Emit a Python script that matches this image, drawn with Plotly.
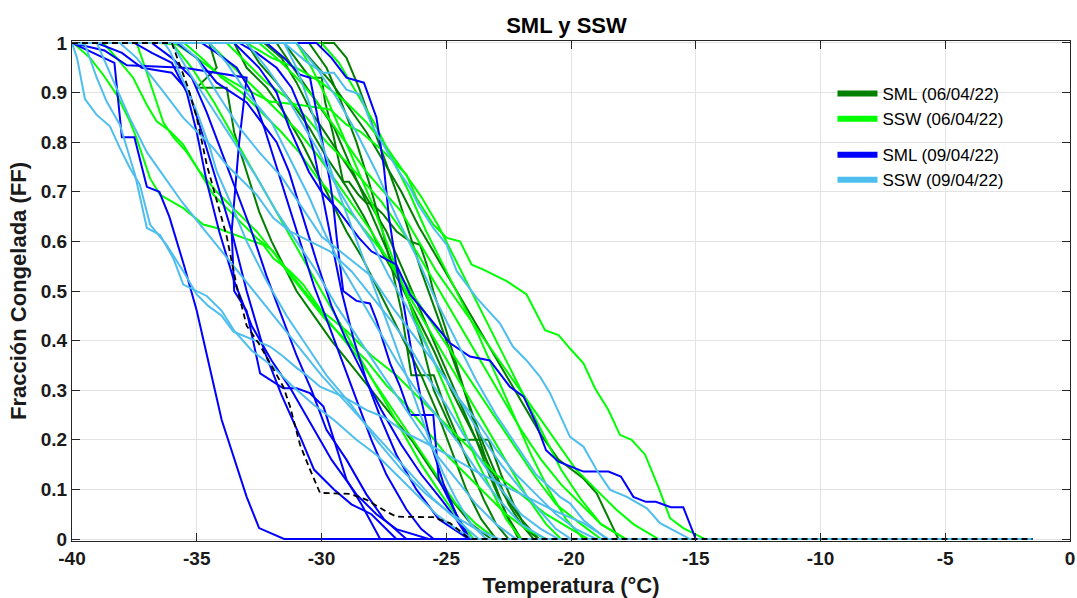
import plotly.graph_objects as go

# ---------------- data ----------------
T_START, T_END = -40.0, -1.5

# SML (06/04/22) - dark green
sml_0604_T = [
    [-31.5,-30.46,-29.99,-29.86,-29.53,-29.13,-28.9,-28.52,-28.19,-27.99,-27.52,-26.99,-26.45,-26.05,-25.78,-25.52,-25.0,-24.4,-23.8,-23.2,-22.6,-22.0],
    [-34.5,-34.2,-35.0,-33.8,-33.5,-33.0,-32.5,-32.0,-31.5,-31.0,-30.3,-29.6,-28.8,-28.0,-27.2,-26.4,-25.6,-24.8,-24.0,-23.2],
    [-33.0,-32.5,-31.8,-31.2,-30.5,-29.8,-29.0,-28.3,-27.6,-26.9,-26.2,-25.5,-24.8,-24.1,-23.4,-22.7,-22.0,-21.3],
    [-32.3,-31.6,-31.0,-30.4,-29.6,-28.8,-28.1,-27.4,-26.8,-26.2,-25.6,-25.0,-24.4,-23.8,-23.2,-22.6,-22.1],
    [-30.5,-29.8,-29.2,-28.6,-28.1,-27.6,-27.2,-26.8,-26.4,-25.5,-25.0,-24.5,-24.0,-23.5,-23.0,-22.5],
    [-31.8,-31.0,-30.2,-29.5,-28.9,-28.3,-27.7,-27.1,-26.5,-26.0,-25.5,-24.6,-23.3,-22.8,-22.3,-21.8,-21.3],
    [-29.5,-29.0,-28.5,-28.0,-27.5,-27.0,-26.5,-26.0,-25.5,-25.0,-24.5,-24.0,-23.5,-23.0,-22.5,-22.0,-21.5],
    [-31.0,-30.3,-29.6,-28.9,-28.2,-27.5,-26.8,-26.1,-25.4,-24.7,-24.0,-23.3,-22.6,-21.9,-21.2,-20.5,-19.5,-18.97,-18.1],
    [-33.5,-33.0,-32.2,-31.5,-30.8,-30.2,-29.6,-29.0,-28.4,-27.8,-27.2,-26.6,-26.0,-25.4,-24.8,-24.2,-23.6,-23.0],
]
sml_0604_FF = [
    [1,0.93,0.93,0.882,0.815,0.72,0.72,0.694,0.677,0.677,0.654,0.62,0.6,0.593,0.553,0.5,0.42,0.32,0.22,0.13,0.05,0],
    [1,0.95,0.91,0.91,0.82,0.74,0.66,0.6,0.55,0.5,0.45,0.4,0.35,0.3,0.25,0.2,0.14,0.08,0.03,0],
    [1,0.96,0.92,0.88,0.83,0.77,0.71,0.65,0.58,0.52,0.45,0.38,0.3,0.23,0.16,0.09,0.04,0],
    [1,0.97,0.92,0.86,0.8,0.74,0.68,0.62,0.55,0.48,0.41,0.34,0.27,0.2,0.12,0.05,0],
    [1,0.95,0.88,0.8,0.72,0.63,0.55,0.46,0.33,0.33,0.26,0.2,0.14,0.08,0.03,0],
    [1,0.94,0.88,0.83,0.76,0.69,0.62,0.55,0.48,0.4,0.3,0.2,0.2,0.13,0.07,0.02,0],
    [1,0.97,0.91,0.84,0.77,0.7,0.62,0.54,0.47,0.4,0.33,0.26,0.19,0.13,0.07,0.03,0],
    [1,0.96,0.92,0.87,0.82,0.76,0.7,0.63,0.57,0.51,0.45,0.39,0.33,0.27,0.21,0.16,0.122,0.092,0],
    [1,0.95,0.91,0.86,0.8,0.74,0.68,0.62,0.57,0.51,0.45,0.39,0.33,0.26,0.18,0.1,0.04,0],
]

# SSW (06/04/22) - lime green
ssw_0604_T = [
    [-36.5,-35.8,-35.0,-34.07,-33.13,-32.06,-30.99,-29.66,-28.99,-28.46,-27.66,-26.99,-26.59,-26.19,-25.52,-24.98,-24.45,-23.98,-23.51,-22.58,-21.78,-21.04,-20.5,-20.04,-19.5,-19.04,-18.5,-18.04,-17.57,-17.03,-16.5,-16.03,-15.5,-14.63],
    [-40.0,-39.88,-39.28,-38.75,-38.21,-37.68,-37.41,-37.14,-36.87,-36.47,-35.54,-34.74,-34.2,-33.13,-32.33,-31.93,-31.26,-30.73,-30.0,-29.0,-28.0,-27.0,-26.0,-25.0,-24.0,-23.0,-22.0,-21.0,-20.0,-19.3],
    [-38.75,-38.21,-37.55,-37.01,-36.61,-36.07,-35.54,-35.14,-34.74,-34.33,-33.8,-33.13,-32.6,-31.93,-31.39,-30.6,-29.8,-29.0,-28.2,-27.4,-26.6,-25.8,-25.0,-24.2,-23.4,-22.6,-21.8,-21.0],
    [-37.41,-37.0,-36.6,-36.34,-35.94,-35.4,-34.87,-34.2,-33.4,-32.6,-31.8,-31.0,-30.2,-29.4,-28.6,-27.8,-27.0,-26.2,-25.4,-24.6,-23.8,-23.0],
    [-35.5,-34.8,-34.0,-33.2,-32.4,-31.6,-30.9,-30.2,-29.5,-28.7,-27.9,-27.1,-26.3,-25.5,-24.7,-23.9,-23.1,-22.3,-21.5,-20.6,-19.6,-18.8],
    [-33.8,-33.0,-32.2,-31.4,-30.6,-29.8,-29.0,-28.3,-27.6,-26.9,-26.2,-25.5,-24.8,-24.1,-23.4,-22.7,-22.0,-21.2,-20.4,-19.6,-18.8,-17.8],
    [-32.5,-31.8,-31.0,-30.3,-29.6,-28.9,-28.2,-27.5,-26.8,-26.1,-25.4,-24.7,-24.0,-23.3,-22.6,-21.9,-21.2,-20.5,-19.8,-19.0,-18.2,-17.5,-16.5],
    [-31.0,-30.4,-29.8,-29.2,-28.6,-28.0,-27.4,-26.8,-26.2,-25.6,-25.0,-24.4,-23.8,-23.2,-22.6,-22.0],
    [-34.5,-33.5,-32.5,-31.7,-30.9,-30.1,-29.4,-28.7,-28.0,-27.3,-26.6,-25.9,-25.2,-24.5,-23.8,-23.1,-22.4,-21.7,-21.0,-20.4],
    [-30.0,-29.3,-28.6,-27.9,-27.2,-26.5,-25.8,-25.1,-24.4,-23.7,-23.0,-22.3,-21.6,-20.9,-20.2,-19.5],
    [-36.0,-35.2,-34.3,-33.4,-32.5,-31.6,-30.8,-30.0,-29.2,-28.4,-27.6,-26.8,-26.0,-25.2,-24.5,-23.9],
    [-33.0,-32.0,-31.0,-30.0,-29.0,-28.2,-27.4,-26.7,-26.0,-25.3,-24.6,-23.9,-23.2,-22.5,-21.8,-21.1,-20.4,-19.6,-18.8,-17.8],
]
ssw_0604_FF = [
    [1,0.997,0.97,0.936,0.909,0.882,0.876,0.866,0.835,0.822,0.788,0.755,0.734,0.687,0.634,0.607,0.6,0.553,0.543,0.52,0.493,0.421,0.411,0.384,0.354,0.304,0.26,0.21,0.2,0.17,0.105,0.042,0.022,0],
    [1,0.997,0.97,0.936,0.896,0.842,0.808,0.768,0.727,0.694,0.667,0.634,0.627,0.607,0.593,0.566,0.54,0.513,0.46,0.42,0.37,0.33,0.28,0.23,0.18,0.13,0.09,0.05,0.02,0],
    [1,0.97,0.93,0.876,0.842,0.822,0.795,0.761,0.727,0.694,0.667,0.634,0.607,0.58,0.54,0.49,0.44,0.4,0.36,0.31,0.27,0.22,0.17,0.13,0.09,0.05,0.02,0],
    [1,0.94,0.88,0.84,0.81,0.78,0.74,0.7,0.66,0.62,0.57,0.52,0.47,0.42,0.37,0.31,0.25,0.19,0.13,0.07,0.03,0],
    [1,0.97,0.93,0.9,0.86,0.82,0.78,0.73,0.69,0.65,0.6,0.55,0.49,0.43,0.37,0.31,0.25,0.19,0.13,0.07,0.03,0],
    [1,0.96,0.92,0.89,0.85,0.8,0.76,0.72,0.68,0.63,0.58,0.52,0.46,0.4,0.34,0.28,0.22,0.16,0.11,0.07,0.03,0],
    [1,0.97,0.93,0.89,0.84,0.79,0.74,0.7,0.66,0.6,0.54,0.49,0.44,0.39,0.34,0.29,0.24,0.19,0.14,0.1,0.06,0.03,0],
    [1,0.95,0.89,0.82,0.75,0.68,0.6,0.52,0.44,0.37,0.3,0.23,0.16,0.1,0.04,0],
    [1,0.95,0.9,0.86,0.82,0.77,0.72,0.67,0.62,0.56,0.5,0.44,0.38,0.32,0.26,0.2,0.14,0.08,0.03,0],
    [1,0.96,0.9,0.84,0.77,0.7,0.62,0.55,0.48,0.41,0.33,0.25,0.17,0.1,0.04,0],
    [1,0.95,0.88,0.8,0.72,0.64,0.57,0.5,0.43,0.36,0.29,0.22,0.15,0.09,0.04,0],
    [1,0.97,0.95,0.92,0.88,0.84,0.79,0.74,0.69,0.63,0.56,0.49,0.42,0.35,0.28,0.21,0.14,0.08,0.03,0],
]

# SML (09/04/22) - blue
sml_0904_T = [
    [-40,-38.3,-38.0,-37.5,-37.0,-36.5,-36.1,-35.5,-35.0,-34.0,-33.0,-32.5,-31.5],
    [-40,-38.7,-37.8,-35.5,-33.0,-33.3,-33.6,-33.5,-33.0,-32.46,-31.53,-31.0,-30.46,-29.92,-29.5,-29.0,-28.4,-27.65],
    [-39.0,-38.0,-37.2,-36.0,-35.3,-34.8,-34.2,-33.6,-33.0,-32.3,-31.6,-30.8,-30.3,-29.5,-28.8,-28.0,-27.0],
    [-36.8,-36.0,-35.2,-34.6,-34.0,-33.4,-32.8,-32.2,-31.6,-31.0,-30.4,-29.8,-29.0,-28.2,-27.5,-26.6],
    [-32.2,-31.5,-30.86,-30.46,-30.26,-29.93,-29.66,-29.53,-29.39,-29.13,-28.6,-28.06,-27.79,-27.25,-26.85,-26.45,-25.52,-25.3,-24.6,-24.05],
    [-33.5,-32.5,-31.8,-31.3,-30.5,-30.0,-29.4,-28.5,-28.0,-27.0,-26.45,-25.5,-24.85,-24.05,-23.25,-22.45,-21.9,-21.4,-21.0,-20.5,-19.5,-18.5,-18.0,-17.5,-17.0,-16.6,-16.0,-15.5,-15.0],
    [-35.8,-35.0,-34.2,-33.0,-32.4,-31.8,-31.3,-30.8,-30.2,-29.6,-29.0,-28.3,-27.6,-26.8,-26.0,-25.2,-24.6,-24.1],
    [-30.2,-29.6,-29.0,-28.3,-27.8,-27.5,-27.3,-27.0,-26.7,-26.4,-26.0,-25.6,-25.1,-24.6,-24.1],
    [-37.5,-36.8,-36.0,-35.4,-35.0,-34.6,-34.1,-33.5,-32.8,-32.0,-31.2,-30.4,-29.6,-28.6,-27.8,-27.0,-25.7],
    [-34.8,-34.2,-33.4,-32.8,-32.3,-31.8,-31.3,-30.8,-30.3,-29.7,-29.1,-28.6,-28.0,-27.4,-26.6,-26.0,-25.5],
    [-33.3,-32.6,-31.8,-31.2,-30.7,-30.3,-30.0,-29.6,-29.2,-28.7,-28.2,-27.6,-27.0,-26.2,-25.3,-24.1],
]
sml_0904_FF = [
    [1,0.96,0.81,0.81,0.71,0.70,0.65,0.55,0.46,0.24,0.085,0.022,0],
    [1,0.985,0.955,0.95,0.93,0.80,0.62,0.50,0.46,0.334,0.304,0.304,0.294,0.267,0.2,0.12,0.07,0],
    [1,0.98,0.95,0.94,0.9,0.82,0.72,0.62,0.5,0.38,0.29,0.2,0.14,0.1,0.07,0.05,0],
    [1,0.97,0.93,0.86,0.78,0.70,0.62,0.53,0.45,0.37,0.30,0.22,0.16,0.09,0.04,0],
    [1,0.97,0.936,0.93,0.876,0.788,0.721,0.674,0.607,0.5,0.48,0.475,0.44,0.354,0.307,0.25,0.25,0.12,0.05,0],
    [1,0.95,0.90,0.83,0.74,0.70,0.667,0.607,0.58,0.553,0.493,0.435,0.395,0.368,0.36,0.307,0.287,0.233,0.179,0.156,0.136,0.136,0.126,0.085,0.075,0.075,0.064,0.064,0],
    [1,0.97,0.92,0.88,0.84,0.80,0.74,0.66,0.56,0.47,0.40,0.33,0.26,0.19,0.13,0.08,0.04,0],
    [1,0.97,0.93,0.92,0.85,0.75,0.65,0.55,0.47,0.38,0.28,0.19,0.11,0.05,0],
    [1,0.98,0.96,0.9,0.82,0.72,0.62,0.52,0.43,0.36,0.3,0.23,0.16,0.09,0.05,0.02,0],
    [1,0.98,0.95,0.9,0.83,0.75,0.67,0.59,0.51,0.43,0.35,0.28,0.2,0.13,0.06,0.02,0],
    [1,0.98,0.95,0.91,0.85,0.78,0.70,0.6,0.5,0.4,0.32,0.24,0.17,0.1,0.04,0],
]

# SSW (09/04/22) - light blue
ssw_0904_T = [
    [-40,-31.5,-30.6,-29.94,-29.5,-29.0,-28.46,-27.99,-27.52,-26.99,-26.45,-26.12,-25.52,-24.98,-24.58,-23.78,-22.85,-22.33,-21.78,-21.24,-20.84,-20.04,-19.5,-18.97,-18.43,-17.76,-16.96,-16.43,-15.23],
    [-40,-39.8,-39.48,-39.01,-38.48,-38.08,-37.68,-37.28,-36.87,-36.21,-35.54,-35.0,-34.54,-34.0,-33.53,-32.87,-32.06,-31.53,-31.0,-30.59,-30.06,-29.13,-28.19,-27.52,-26.59,-25.52,-24.58,-23.65,-22.85,-21.78,-20.71,-19.5,-18.84,-18.5],
    [-39.48,-39.01,-38.61,-38.08,-37.47,-37.0,-36.47,-35.94,-35.54,-34.6,-34.0,-33.5,-32.8,-32.0,-31.2,-30.3,-29.5,-28.6,-27.8,-27.0,-26.2,-25.4,-24.6,-23.9],
    [-38.08,-37.41,-36.87,-36.34,-35.54,-34.87,-34.33,-33.8,-33.13,-32.6,-31.93,-31.26,-30.46,-29.66,-28.8,-28.0,-27.2,-26.5,-25.8,-25.0,-24.3,-23.5,-22.8,-22.0,-21.2,-20.5],
    [-36.3,-36.07,-35.54,-35.0,-34.47,-34.2,-33.67,-33.0,-32.2,-31.4,-30.6,-29.8,-28.8,-27.8,-26.8,-25.8,-24.8,-23.8,-22.9],
    [-35.7,-35.0,-34.2,-33.3,-32.5,-31.6,-30.8,-30.0,-29.0,-28.0,-27.2,-26.3,-25.4,-24.6,-23.8,-23.0,-22.2,-21.4,-20.6,-19.8,-19.0],
    [-34.5,-33.8,-33.0,-32.0,-31.2,-30.5,-29.9,-29.2,-28.5,-27.7,-27.0,-26.2,-25.4,-24.6,-23.8,-22.9,-22.0,-21.0],
    [-33.0,-32.2,-31.5,-30.8,-30.1,-29.5,-28.8,-28.0,-27.3,-26.6,-26.0,-25.4,-24.7,-24.1,-23.5,-22.8,-22.0,-21.3,-20.6,-20.0],
    [-31.5,-31.0,-30.5,-30.0,-29.4,-28.8,-28.2,-27.6,-27.1,-26.6,-26.1,-25.6,-25.1,-24.6,-24.0,-23.4],
    [-31.0,-30.2,-29.4,-28.6,-27.8,-27.0,-26.2,-25.4,-24.6,-23.8,-23.0,-22.2,-21.4,-20.44,-20.04,-19.5,-18.57],
    [-36.0,-35.3,-34.4,-33.5,-32.6,-31.8,-31.0,-30.2,-29.4,-28.6,-27.8,-27.0,-26.2,-25.4,-24.6,-23.8,-23.0,-22.2],
    [-39.0,-38.4,-37.7,-37.0,-36.3,-35.6,-34.8,-34.0,-33.2,-32.4,-31.6,-30.8,-30.0,-29.1,-28.2,-27.3,-26.4,-25.5,-24.6,-23.7],
]
ssw_0904_FF = [
    [1,1,0.962,0.94,0.94,0.906,0.896,0.835,0.795,0.748,0.708,0.674,0.627,0.593,0.54,0.486,0.435,0.388,0.36,0.327,0.294,0.206,0.186,0.139,0.099,0.085,0.062,0.032,0],
    [1,0.97,0.887,0.855,0.832,0.788,0.748,0.714,0.634,0.593,0.54,0.493,0.47,0.45,0.418,0.405,0.388,0.368,0.345,0.33,0.307,0.287,0.26,0.246,0.213,0.186,0.159,0.132,0.112,0.085,0.058,0.032,0.011,0],
    [0.997,0.93,0.882,0.835,0.734,0.627,0.613,0.566,0.513,0.49,0.46,0.42,0.38,0.35,0.31,0.27,0.24,0.2,0.17,0.13,0.09,0.05,0.02,0],
    [1,0.97,0.936,0.902,0.849,0.815,0.788,0.754,0.721,0.694,0.647,0.62,0.6,0.58,0.54,0.49,0.44,0.39,0.33,0.27,0.21,0.15,0.1,0.05,0.02,0],
    [1,0.983,0.923,0.862,0.788,0.741,0.681,0.6,0.52,0.45,0.39,0.33,0.27,0.2,0.14,0.09,0.05,0.02,0],
    [1,0.97,0.9,0.83,0.78,0.73,0.67,0.61,0.57,0.53,0.47,0.41,0.35,0.29,0.24,0.18,0.13,0.09,0.05,0.02,0],
    [1,0.96,0.9,0.84,0.76,0.69,0.62,0.55,0.49,0.42,0.36,0.3,0.25,0.2,0.14,0.08,0.03,0],
    [1,0.95,0.9,0.84,0.78,0.72,0.66,0.6,0.53,0.47,0.41,0.35,0.3,0.25,0.2,0.15,0.1,0.06,0.02,0],
    [1,0.95,0.88,0.8,0.71,0.63,0.55,0.47,0.4,0.33,0.26,0.19,0.13,0.08,0.03,0],
    [1,0.95,0.89,0.82,0.74,0.65,0.57,0.48,0.4,0.32,0.25,0.19,0.13,0.085,0.072,0.038,0],
    [1,0.94,0.87,0.8,0.73,0.66,0.6,0.54,0.47,0.41,0.35,0.29,0.23,0.17,0.12,0.07,0.03,0],
    [1,0.93,0.85,0.78,0.73,0.68,0.63,0.58,0.53,0.48,0.43,0.38,0.33,0.28,0.23,0.18,0.13,0.08,0.04,0],
]

# reference (black dashed)
ref_T = [-40,-36,-35.35,-35.0,-34.6,-34.2,-33.8,-33.4,-33.0,-32.46,-31.53,-31.26,-30.86,-30.46,-30.06,-28.86,-28.19,-27.39,-26.99,-25.52,-24.85,-24.05,-1.5]
ref_FF = [1,1,0.91,0.85,0.755,0.68,0.61,0.51,0.43,0.39,0.307,0.267,0.19,0.14,0.093,0.091,0.079,0.055,0.045,0.044,0.032,0,0]

x_ticks = [-40,-35,-30,-25,-20,-15,-10,-5,0]
y_ticks = [0,0.1,0.2,0.3,0.4,0.5,0.6,0.7,0.8,0.9,1]
x_ticklabels = ["-40","-35","-30","-25","-20","-15","-10","-5","0"]
y_ticklabels = ["0","0.1","0.2","0.3","0.4","0.5","0.6","0.7","0.8","0.9","1"]

series = [
    ("SML (06/04/22)", "#007F00", sml_0604_T, sml_0604_FF, "g1"),
    ("SSW (06/04/22)", "#00FF00", ssw_0604_T, ssw_0604_FF, "g1"),
    ("SML (09/04/22)", "#0000FF", sml_0904_T, sml_0904_FF, "g2"),
    ("SSW (09/04/22)", "#4DBEEE", ssw_0904_T, ssw_0904_FF, "g2"),
]

fig = go.Figure()
for name, color, Ts, FFs, grp in series:
    for t, f in zip(Ts, FFs):
        tt = list(t)
        ff = list(f)
        if tt[0] > T_START:
            tt = [T_START] + tt
            ff = [1] + ff
        tt = tt + [T_END]
        ff = ff + [0]
        fig.add_trace(go.Scatter(x=tt, y=ff, mode="lines",
                                 line=dict(color=color, width=2),
                                 showlegend=False, hoverinfo="skip"))

fig.add_trace(go.Scatter(x=ref_T, y=ref_FF, mode="lines",
                         line=dict(color="black", width=1.8, dash="6px,4px"),
                         showlegend=False, hoverinfo="skip"))

# legend entries
for name, color, Ts, FFs, grp in series:
    fig.add_trace(go.Scatter(x=[None], y=[None], mode="lines", name=name,
                             legendgroup=grp,
                             line=dict(color=color, width=6)))

font_ax = "Liberation Sans Narrow, Arial Narrow, Liberation Sans, Arial, sans-serif"
fig.update_layout(
    width=1077, height=598,
    margin=dict(l=72, r=7, t=41, b=57, autoexpand=False),
    paper_bgcolor="white", plot_bgcolor="white",
    title=dict(text="<b>SML y SSW</b>", x=0.526, xanchor="center", y=0.958, yanchor="middle",
               font=dict(family="Liberation Sans, Arial, sans-serif", size=22, color="black")),
    legend=dict(x=0.762, y=0.93, xanchor="left", yanchor="top",
                bgcolor="rgba(0,0,0,0)", borderwidth=0,
                font=dict(family="Liberation Sans, Arial, sans-serif", size=17, color="black"),
                tracegroupgap=11, traceorder="grouped", itemwidth=40),
    showlegend=True,
)
fig.update_xaxes(range=[-40, 0], tickvals=x_ticks,
                 ticktext=["<b>%s</b>" % s for s in x_ticklabels], automargin=False,
                 showgrid=True, gridcolor="#E3E3E3", gridwidth=1, zeroline=False,
                 showline=True, linecolor="#262626", linewidth=1, mirror="allticks",
                 ticks="inside", ticklen=8, tickcolor="#262626",
                 tickfont=dict(family=font_ax, size=19, color="#1a1a1a"),
                 title=dict(text="<b>Temperatura (°C)</b>", standoff=10,
                            font=dict(family=font_ax, size=22, color="#1a1a1a")))
fig.update_yaxes(range=[-0.004, 1.004], tickvals=y_ticks,
                 ticktext=["<b>%s</b>" % s for s in y_ticklabels], automargin=False,
                 showgrid=True, gridcolor="#E3E3E3", gridwidth=1, zeroline=False,
                 showline=True, linecolor="#262626", linewidth=1, mirror="allticks",
                 ticks="inside", ticklen=8, tickcolor="#262626",
                 tickfont=dict(family=font_ax, size=19, color="#1a1a1a"),
                 title=dict(text="<b>Fracción Congelada (FF)</b>", standoff=8,
                            font=dict(family=font_ax, size=22, color="#1a1a1a")))

fig.write_html("out.html")
